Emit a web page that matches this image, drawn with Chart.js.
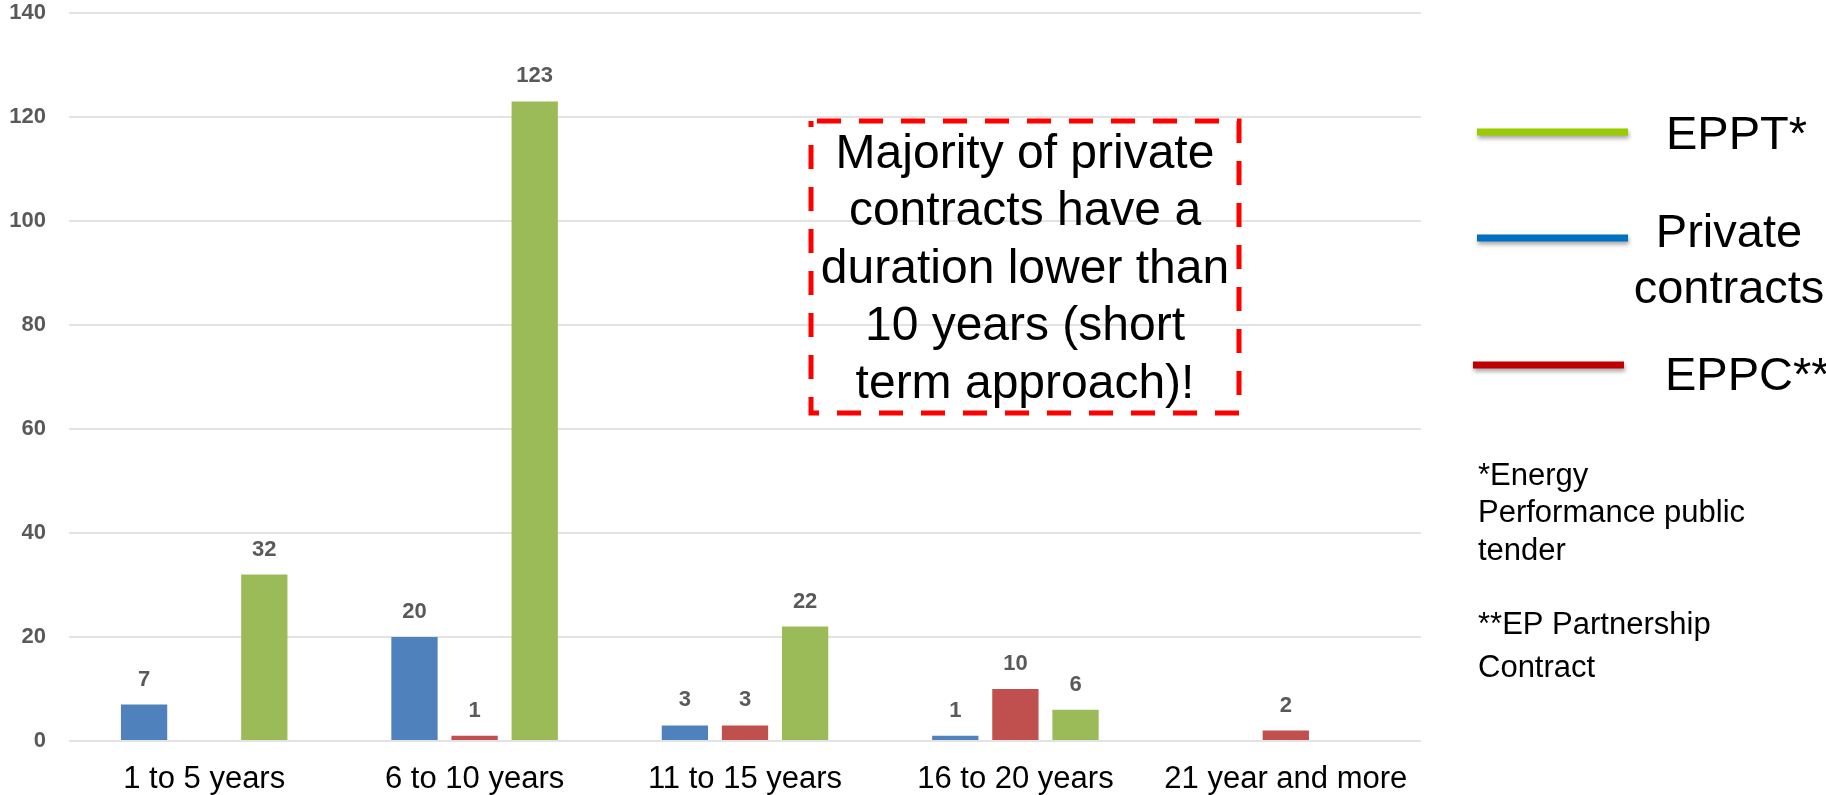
<!DOCTYPE html>
<html>
<head>
<meta charset="utf-8">
<script src="https://cdn.jsdelivr.net/npm/chart.js@4.4.0/dist/chart.umd.min.js"></script>
<style>
  html, body { margin: 0; padding: 0; background: #ffffff; }
  #wrap { position: relative; width: 1826px; height: 795px; overflow: hidden; }
  canvas { display: block; }
</style>
</head>
<body>
<div id="wrap"><canvas id="c" width="1826" height="795"></canvas></div>
<script>
// ---- Data ----
const categories = ['1 to 5 years', '6 to 10 years', '11 to 15 years', '16 to 20 years', '21 year and more'];
const privateContracts = [7, 20, 3, 1, null];
const eppc = [null, 1, 3, 10, 2];
const eppt = [32, 123, 22, 6, null];
const yMin = 0;
const yMax = 140;
const yStep = 20;

// Legend / annotation texts
const legendLabels = [['EPPT*'], ['Private', 'contracts'], ['EPPC**']];
const legendColors = ['#99CC00', '#0070C0', '#C00000'];
const noteLines = ['Majority of private', 'contracts have a', 'duration lower than', '10 years (short', 'term approach)!'];
const footnote1 = ['*Energy', 'Performance public', 'tender'];
const footnote2 = ['**EP Partnership', 'Contract'];

const FONT = '"Liberation Sans", Arial, Helvetica, sans-serif';

const valueLabels = {
  id: 'valueLabels',
  afterDatasetsDraw(chart) {
    const ctx = chart.ctx;
    ctx.save();
    ctx.font = 'bold 22px ' + FONT;
    ctx.fillStyle = '#595959';
    ctx.textAlign = 'center';
    ctx.textBaseline = 'middle';
    chart.data.datasets.forEach((ds, di) => {
      const meta = chart.getDatasetMeta(di);
      meta.data.forEach((el, i) => {
        const v = ds.data[i];
        if (v === null || v === undefined) return;
        ctx.fillText(String(v), el.x, el.y - 25);
      });
    });
    ctx.restore();
  }
};

const overlay = {
  id: 'overlay',
  afterDraw(chart) {
    const ctx = chart.ctx;
    ctx.save();
    // Annotation box
    ctx.strokeStyle = '#FF0000';
    ctx.lineWidth = 5;
    ctx.setLineDash([24, 18]);
    ctx.lineDashOffset = -6;
    ctx.strokeRect(811, 121, 428, 292);
    ctx.setLineDash([]);
    ctx.fillStyle = '#000000';
    ctx.font = '48px ' + FONT;
    ctx.textAlign = 'center';
    ctx.textBaseline = 'alphabetic';
    noteLines.forEach((t, i) => ctx.fillText(t, 1025, 168 + i * 57.4));

    // Legend
    const lineY = [132, 238, 365];
    const lineX = [[1477, 1628], [1477, 1628], [1473, 1624]];
    lineY.forEach((y, i) => {
      ctx.save();
      ctx.shadowColor = 'rgba(0,0,0,0.35)';
      ctx.shadowBlur = 4;
      ctx.shadowOffsetY = 3;
      ctx.shadowOffsetX = 1;
      ctx.strokeStyle = legendColors[i];
      ctx.lineWidth = 7;
      ctx.beginPath();
      ctx.moveTo(lineX[i][0], y);
      ctx.lineTo(lineX[i][1], y);
      ctx.stroke();
      ctx.restore();
    });
    ctx.fillStyle = '#000000';
    ctx.font = '47px ' + FONT;
    ctx.textAlign = 'left';
    ctx.fillText(legendLabels[0][0], 1666, 149);
    ctx.textAlign = 'center';
    ctx.fillText(legendLabels[1][0], 1729, 247);
    ctx.fillText(legendLabels[1][1], 1729, 303);
    ctx.textAlign = 'left';
    ctx.fillText(legendLabels[2][0], 1665, 390);

    // Footnotes
    ctx.font = '31px ' + FONT;
    const fy1 = [485, 522, 560];
    footnote1.forEach((t, i) => ctx.fillText(t, 1478, fy1[i]));
    const fy2 = [634, 677];
    footnote2.forEach((t, i) => ctx.fillText(t, 1478, fy2[i]));
    ctx.restore();
  }
};

new Chart(document.getElementById('c'), {
  type: 'bar',
  data: {
    labels: categories,
    datasets: [
      { label: 'Private contracts', data: privateContracts, backgroundColor: '#4F81BD' },
      { label: 'EPPC**', data: eppc, backgroundColor: '#C0504D' },
      { label: 'EPPT*', data: eppt, backgroundColor: '#9BBB59' }
    ]
  },
  options: {
    responsive: false,
    animation: false,
    devicePixelRatio: 1,
    datasets: { bar: { barPercentage: 0.77, categoryPercentage: 0.667 } },
    layout: { padding: { top: 13, right: 405, left: 0, bottom: 0 } },
    plugins: { legend: { display: false }, tooltip: { enabled: false } },
    scales: {
      x: {
        grid: { display: false },
        border: { display: false },
        ticks: {
          color: '#000000',
          font: { family: FONT, size: 31 },
          padding: 12,
          autoSkip: false,
          maxRotation: 0
        },
        afterFit(scale) { scale.height = 54; scale.paddingLeft = 0; scale.paddingRight = 0; }
      },
      y: {
        min: yMin,
        max: yMax,
        border: { display: false },
        grid: { color: '#E3E3E3', lineWidth: 2, drawTicks: false },
        ticks: {
          stepSize: yStep,
          color: '#595959',
          font: { family: FONT, size: 22, weight: 'bold' },
          padding: 23
        },
        afterFit(scale) { scale.width = 69; scale.paddingTop = 0; scale.paddingBottom = 0; }
      }
    }
  },
  plugins: [valueLabels, overlay]
});
</script>
</body>
</html>
